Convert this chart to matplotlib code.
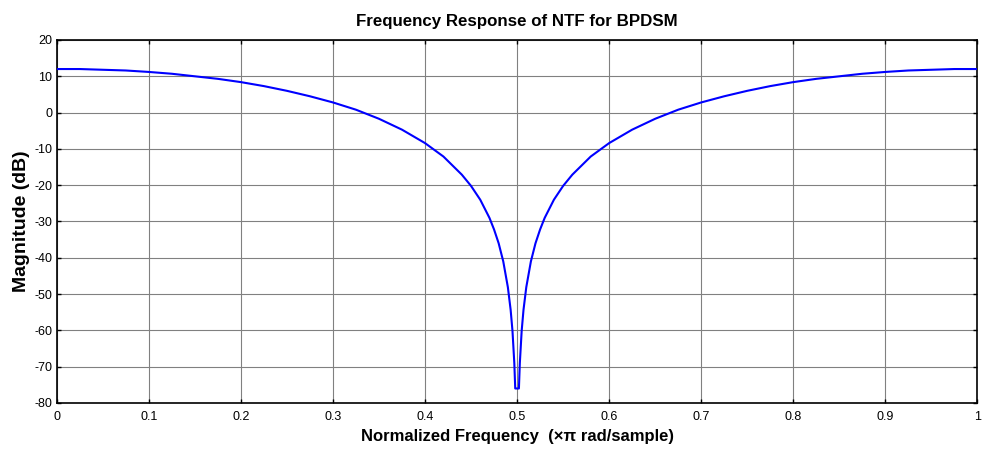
import matplotlib
matplotlib.use('Agg')
import matplotlib.pyplot as plt

plt.rcParams['font.family'] = ['Liberation Sans', 'DejaVu Sans']
plt.rcParams['axes.unicode_minus'] = False

# normalized frequency (x pi rad/sample) and NTF magnitude in dB
freq = [0, 0.025, 0.05, 0.075, 0.1, 0.125, 0.15, 0.175, 0.2, 0.225,
        0.25, 0.275, 0.3, 0.325, 0.35, 0.375, 0.4, 0.42, 0.44, 0.45,
        0.46, 0.47, 0.475, 0.48, 0.485, 0.49, 0.493, 0.495, 0.497, 0.498,
        0.502, 0.503, 0.505, 0.507, 0.51, 0.515, 0.52, 0.525, 0.53, 0.54,
        0.55, 0.56, 0.58, 0.6, 0.625, 0.65, 0.675, 0.7, 0.725, 0.75,
        0.775, 0.8, 0.825, 0.85, 0.875, 0.9, 0.925, 0.95, 0.975, 1.0]
mag_db = [12.0, 12.0, 11.8, 11.6, 11.2, 10.7, 10.0, 9.3, 8.4, 7.3,
          6.0, 4.5, 2.8, 0.8, -1.7, -4.7, -8.4, -12.1, -17.1, -20.2,
          -24.0, -29.0, -32.2, -36.0, -41.0, -48.1, -54.3, -60.1, -69.0, -76.0,
          -76.0, -69.0, -60.1, -54.3, -48.1, -41.0, -36.0, -32.2, -29.0, -24.0,
          -20.2, -17.1, -12.1, -8.4, -4.7, -1.7, 0.8, 2.8, 4.5, 6.0,
          7.3, 8.4, 9.3, 10.0, 10.7, 11.2, 11.6, 11.8, 12.0, 12.0]

xticks = [0, 0.1, 0.2, 0.3, 0.4, 0.5, 0.6, 0.7, 0.8, 0.9, 1]
xticklabels = ['0', '0.1', '0.2', '0.3', '0.4', '0.5', '0.6', '0.7', '0.8', '0.9', '1']
yticks = [-80, -70, -60, -50, -40, -30, -20, -10, 0, 10, 20]

fig = plt.figure(figsize=(9.82, 4.55), dpi=100)
ax = fig.add_axes([0.0577, 0.1143, 0.9377, 0.7978])

ax.plot(freq, mag_db, color='#0000ff', lw=1.5, zorder=3)

ax.set_xlim(0, 1)
ax.set_ylim(-80, 20)
ax.set_xticks(xticks)
ax.set_xticklabels(xticklabels)
ax.set_yticks(yticks)
ax.grid(True, color='0.5', lw=0.8)
ax.tick_params(direction='in', length=3, width=1, labelsize=9,
               top=True, right=True)
ax.tick_params(axis='x', pad=6)
ax.tick_params(axis='y', pad=3)
for s in ax.spines.values():
    s.set_linewidth(1.2)

ax.set_title('Frequency Response of NTF for BPDSM', fontsize=12.2,
             fontweight='bold', pad=10)
ax.set_xlabel('Normalized Frequency  (\u00d7\u03c0 rad/sample)', fontsize=12,
              fontweight='bold', labelpad=4)
ax.set_ylabel('Magnitude (dB)', fontsize=14, fontweight='bold', labelpad=3)

fig.savefig('out.png', dpi=100)
